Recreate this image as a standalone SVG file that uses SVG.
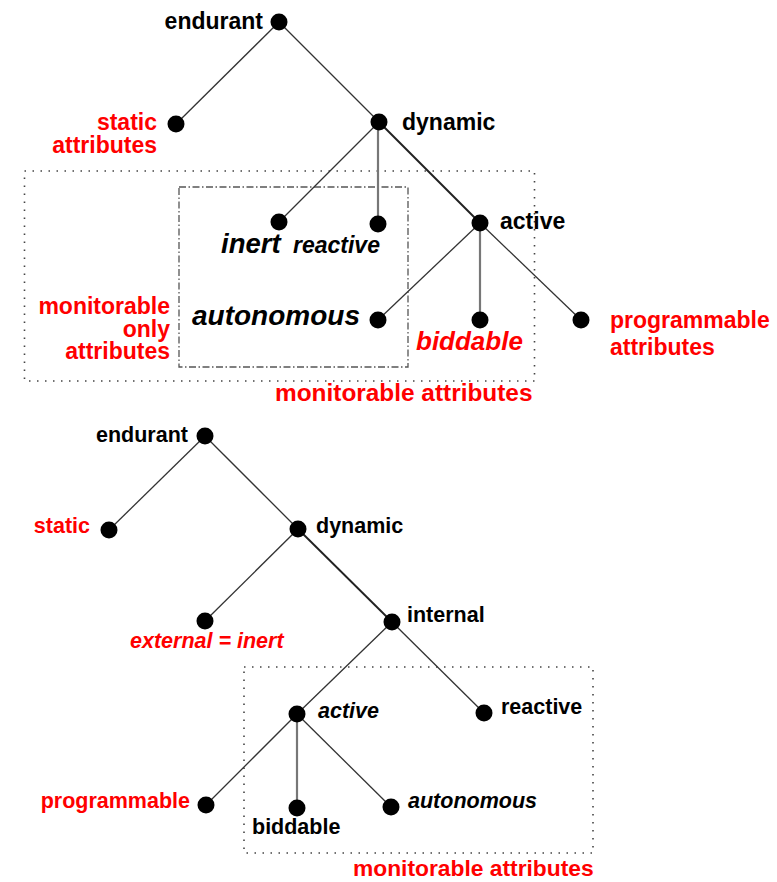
<svg xmlns="http://www.w3.org/2000/svg" width="777" height="882" viewBox="0 0 777 882">
<style>
text{font-family:"Liberation Sans",Arial,sans-serif;font-weight:bold;fill:#000}
.r{fill:#ff0000}
.i{font-style:italic}
.e{text-anchor:end}
.t{font-size:23px}
.b{font-size:21.5px}
.n{fill:#000}
.edge{stroke:#333;stroke-width:1.3;fill:none}
.v{stroke:#777;stroke-width:2.2}
.thick{stroke:#222;stroke-width:1.9}
.dot{fill:none;stroke:#444;stroke-width:1.6;stroke-dasharray:1.5 6.5}
.dd{fill:none;stroke:#555;stroke-width:1.3;stroke-dasharray:7 2.5 1.5 2.5}
</style>
<rect x="0" y="0" width="777" height="882" fill="#fff"/>
<g id="boxes">
<rect class="dot" x="24.5" y="171" width="510" height="210"/>
<rect class="dd" x="179" y="187" width="229" height="180"/>
<rect class="dot" x="244" y="667" width="349" height="186"/>
</g>
<g id="connectors">
<line class="edge" x1="279" y1="22" x2="176" y2="124"/>
<line class="edge" x1="279" y1="22" x2="379" y2="122"/>
<line class="edge" x1="379" y1="122" x2="279" y2="222"/>
<line class="edge v" x1="378" y1="122" x2="378" y2="224"/>
<line class="edge thick" x1="379" y1="122" x2="480" y2="223"/>
<line class="edge" x1="480" y1="223" x2="378" y2="320"/>
<line class="edge v" x1="480" y1="223" x2="480" y2="320"/>
<line class="edge" x1="480" y1="223" x2="581" y2="320"/>
<line class="edge" x1="205" y1="436" x2="109" y2="530"/>
<line class="edge" x1="205" y1="436" x2="298" y2="529"/>
<line class="edge" x1="298" y1="529" x2="205" y2="621"/>
<line class="edge thick" x1="298" y1="529" x2="392" y2="622"/>
<line class="edge" x1="392" y1="622" x2="297" y2="714"/>
<line class="edge" x1="392" y1="622" x2="484" y2="713"/>
<line class="edge" x1="297" y1="714" x2="206" y2="805"/>
<line class="edge v" x1="297" y1="714" x2="297" y2="808"/>
<line class="edge" x1="297" y1="714" x2="391" y2="807"/>
</g>
<g id="t-endurant"><circle class="n" cx="279" cy="22" r="8.5"/><text class="t e" x="263" y="29">endurant</text></g>
<g id="t-static"><circle class="n" cx="176" cy="124" r="8.5"/><text class="t e r" x="157" y="130">static</text><text class="t e r" x="157" y="153">attributes</text></g>
<g id="t-dynamic"><circle class="n" cx="379" cy="122" r="8.5"/><text class="t" x="402" y="130">dynamic</text></g>
<g id="t-inert"><circle class="n" cx="279" cy="222" r="8.5"/><text class="i" x="221" y="253" font-size="27.5">inert</text></g>
<g id="t-reactive"><circle class="n" cx="378" cy="224" r="8.5"/><text class="t i" x="293" y="253">reactive</text></g>
<g id="t-active"><circle class="n" cx="480" cy="223" r="8.5"/><text class="t" x="500" y="229">active</text></g>
<g id="t-autonomous"><circle class="n" cx="378" cy="320" r="8.5"/><text class="i" x="192" y="325" font-size="28">autonomous</text></g>
<g id="t-biddable"><circle class="n" cx="480" cy="320" r="8.5"/><text class="i r" x="416" y="350" font-size="26">biddable</text></g>
<g id="t-programmable"><circle class="n" cx="581" cy="320" r="8.5"/><text class="t r" x="610" y="328">programmable</text><text class="t r" x="610" y="355">attributes</text></g>
<g id="t-monitorable-only"><text class="t e r" x="170" y="314">monitorable</text><text class="t e r" x="170" y="337">only</text><text class="t e r" x="170" y="359">attributes</text></g>
<g id="t-monitorable-top"><text class="r" x="275" y="401" font-size="24.4">monitorable attributes</text></g>
<g id="b-endurant"><circle class="n" cx="205" cy="436" r="8.5"/><text class="b e" x="188" y="442">endurant</text></g>
<g id="b-static"><circle class="n" cx="109" cy="530" r="8.5"/><text class="b e r" x="90" y="533">static</text></g>
<g id="b-dynamic"><circle class="n" cx="298" cy="529" r="8.5"/><text class="b" x="316" y="533">dynamic</text></g>
<g id="b-external"><circle class="n" cx="205" cy="621" r="8.5"/><text class="b i r" x="130" y="648">external = inert</text></g>
<g id="b-internal"><circle class="n" cx="392" cy="622" r="8.5"/><text class="b" x="407" y="622">internal</text></g>
<g id="b-active"><circle class="n" cx="297" cy="714" r="8.5"/><text class="b i" x="318" y="718">active</text></g>
<g id="b-reactive"><circle class="n" cx="484" cy="713" r="8.5"/><text class="b" x="501" y="714">reactive</text></g>
<g id="b-programmable"><circle class="n" cx="206" cy="805" r="8.5"/><text class="b e r" x="190" y="808">programmable</text></g>
<g id="b-biddable"><circle class="n" cx="297" cy="808" r="8.5"/><text class="b" x="252" y="834">biddable</text></g>
<g id="b-autonomous"><circle class="n" cx="391" cy="807" r="8.5"/><text class="b i" x="408" y="808">autonomous</text></g>
<g id="b-monitorable"><text class="r" x="353" y="876" font-size="22.8">monitorable attributes</text></g>
</svg>
